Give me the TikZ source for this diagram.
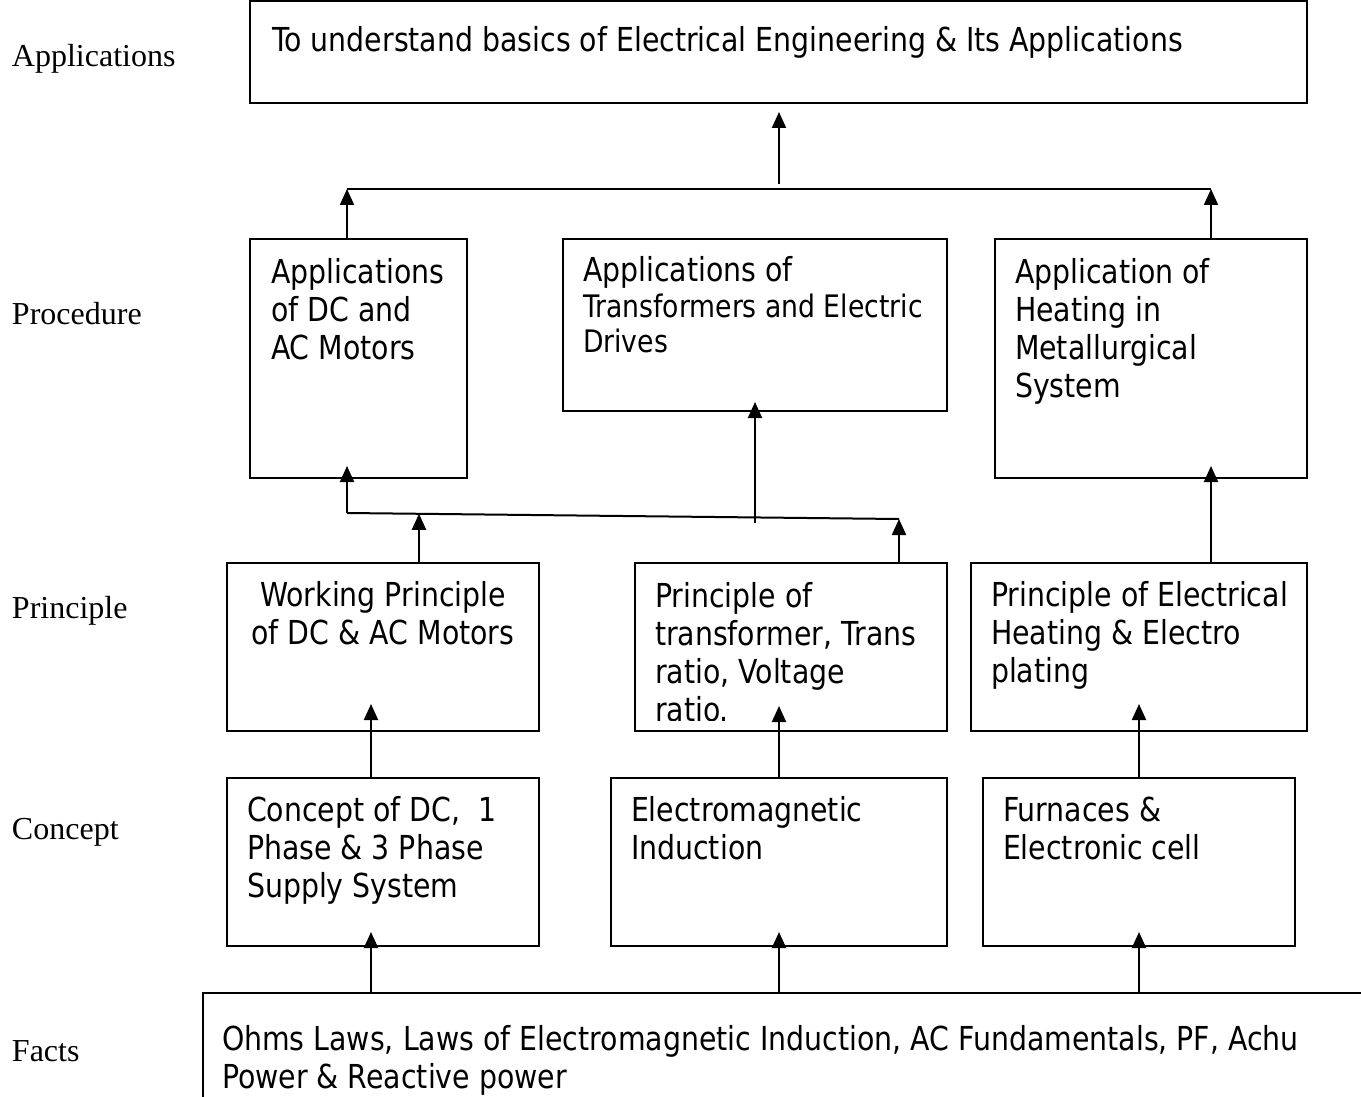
\documentclass[tikz,border=0pt]{standalone}
\usepackage{fontspec}
\setmainfont{Liberation Serif}
\newfontfamily\boxfont[FakeStretch=0.86]{DejaVu Sans}
\usetikzlibrary{arrows.meta,calc}
\begin{document}
\begin{tikzpicture}[x=1pt,y=-1pt,
  box/.style={draw,line width=2pt,inner sep=0pt,outer sep=0pt,anchor=north west},
  txt/.style={inner sep=0pt,outer sep=0pt,align=left,font=\boxfont\fontsize{33}{38}\selectfont},
  txtsm/.style={inner sep=0pt,outer sep=0pt,align=left,font=\boxfont\fontsize{31}{35}\selectfont},
  lab/.style={inner sep=0pt,outer sep=0pt,anchor=base west,font=\fontsize{32}{38}\selectfont},
  arr/.style={line width=2pt,-{Triangle[length=16pt,width=14pt]}},
  ln/.style={line width=2pt}]
\useasboundingbox[fill=white] (0,0) rectangle (1361,1097);
% boxes
\node[box,minimum width=1057pt,minimum height=102pt] (top) at (250,1) {};
\node[box,minimum width=217pt,minimum height=239pt] (p1) at (250,239) {};
\node[box,minimum width=384pt,minimum height=172pt] (p2) at (563,239) {};
\node[box,minimum width=312pt,minimum height=239pt] (p3) at (995,239) {};
\node[box,minimum width=312pt,minimum height=168pt] (r1) at (227,563) {};
\node[box,minimum width=312pt,minimum height=168pt] (r2) at (635,563) {};
\node[box,minimum width=336pt,minimum height=168pt] (r3) at (971,563) {};
\node[box,minimum width=312pt,minimum height=168pt] (c1) at (227,778) {};
\node[box,minimum width=336pt,minimum height=168pt] (c2) at (611,778) {};
\node[box,minimum width=312pt,minimum height=168pt] (c3) at (983,778) {};
\node[box,minimum width=1200pt,minimum height=140pt] (facts) at (203,993) {};
% box texts (anchor = baseline of the last line)
\node[txt,anchor=base west] (ttop) at (272,52) {To understand basics of Electrical Engineering \& Its Applications};
\node[txt,anchor=base west] (tp1) at (271,359) {Applications\\of DC and\\AC Motors};
\node[txt,anchor=base west] (tp2a) at (583,281) {Applications of};
\node[txtsm,anchor=base west] (tp2b) at (583,352) {Transformers and Electric\\Drives};
\node[txt,anchor=base west] (tp3) at (1015,397) {Application of\\Heating in\\Metallurgical\\System};
\node[txt,anchor=base,align=center] (tr1) at (383,644) {Working Principle\\of DC \& AC Motors};
\begin{scope}
\clip (635,563) rectangle (947,720);
\node[txt,anchor=base west] (tr2) at (655,721) {Principle of\\transformer, Trans\\ratio, Voltage\\ratio.};
\end{scope}
\node[txt,anchor=base west] (tr3) at (991,682) {Principle of Electrical\\Heating \& Electro\\plating};
\node[txt,anchor=base west] (tc1) at (247,897) {Concept of DC,~~1\\Phase \& 3 Phase\\Supply System};
\node[txt,anchor=base west] (tc2) at (631,859) {Electromagnetic\\Induction};
\node[txt,anchor=base west] (tc3) at (1003,859) {Furnaces \&\\Electronic cell};
\node[txt,anchor=base west] (tf) at (222,1088) {Ohms Laws, Laws of Electromagnetic Induction, AC Fundamentals, PF, Achu\\Power \& Reactive power};
% left labels
\node[lab] (lapp) at (12,67) {Applications};
\node[lab] (lproc) at (12,324) {Procedure};
\node[lab] (lprin) at (12,618) {Principle};
\node[lab] (lconc) at (12,839) {Concept};
\node[lab] (lfact) at (12,1061) {Facts};
% coordinates
\coordinate (xa) at (371,0);
\coordinate (xb) at (779,0);
\coordinate (xc) at (1139,0);
\coordinate (xd) at (1211,0);
\coordinate (jl) at (347,513);
\coordinate (jr) at (899,519);
\coordinate (jm) at ($(jl)!0.1304!(jr)$);
\coordinate (jv) at (755,523);
\coordinate (hl) at (347,189);
\coordinate (hr) at (1211,189);
\coordinate (tv) at (779,184);
% connectors
\draw[arr] (facts.north -| xa) -- ($(c1.south -| xa)+(0,-14)$);
\draw[arr] (facts.north -| xb) -- ($(c2.south -| xb)+(0,-14)$);
\draw[arr] (facts.north -| xc) -- ($(c3.south -| xc)+(0,-14)$);
\draw[arr] (c1.north -| xa) -- ($(r1.south -| xa)+(0,-27)$);
\draw[arr] (c2.north -| xb) -- ($(r2.south -| xb)+(0,-25)$);
\draw[arr] (c3.north -| xc) -- ($(r3.south -| xc)+(0,-27)$);
\draw[ln] (jl) -- (jr);
\draw[arr] (r1.north -| jm) -- (jm);
\draw[arr] (r2.north -| jr) -- (jr);
\draw[arr] (jl) -- ($(p1.south -| jl)+(0,-12)$);
\draw[arr] (jv) -- ($(p2.south -| jv)+(0,-9)$);
\draw[arr] (r3.north -| xd) -- ($(p3.south -| xd)+(0,-12)$);
\draw[ln] (hl) -- (hr);
\draw[arr] (p1.north -| hl) -- (hl);
\draw[arr] (p3.north -| hr) -- (hr);
\draw[arr] (tv) -- ($(top.south -| tv)+(0,9)$);
\end{tikzpicture}
\end{document}
